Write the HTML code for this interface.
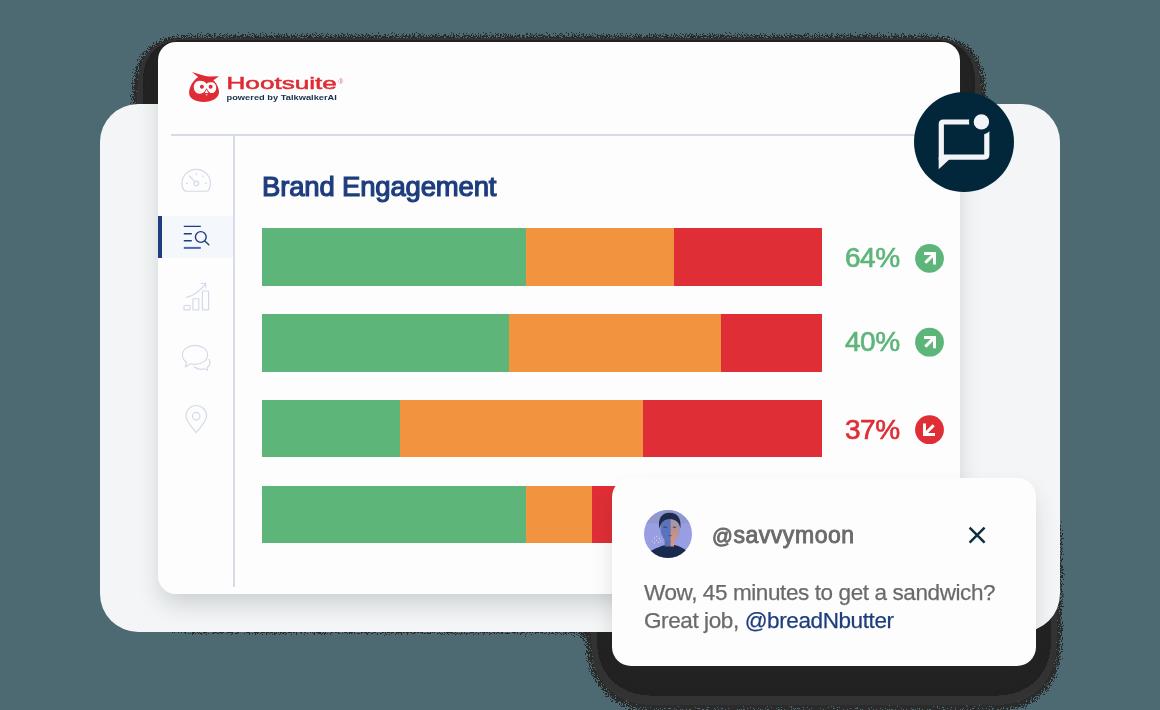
<!DOCTYPE html>
<html>
<head>
<meta charset="utf-8">
<title>Brand Engagement</title>
<style>
html,body{margin:0;padding:0;}
body{width:1160px;height:710px;overflow:hidden;background:#4d6972;position:relative;font-family:"Liberation Sans",sans-serif;}
.abs{position:absolute;}
#back{left:100px;top:104px;width:960px;height:528px;border-radius:38px;background:#f3f5f7;}
#main{left:158px;top:42px;width:802px;height:552px;border-radius:18px;background:#fdfdfe;box-shadow:0 12px 24px -4px rgba(42,54,44,.215);}
#hline{left:171px;top:134px;width:776px;height:2px;background:#d5dbea;}
#vline{left:233.3px;top:136px;width:1.7px;height:451px;background:#d6dcea;}
#active{left:158px;top:216px;width:75px;height:42px;background:#f4f7fc;}
#active:before{content:"";position:absolute;left:0;top:0;width:4px;height:42px;background:#1e3d7d;}
#title{will-change:transform;left:262px;top:169.5px;font-size:27.5px;color:#1e3d7d;white-space:nowrap;line-height:34px;letter-spacing:-0.17px;-webkit-text-stroke:1.2px #1e3d7d;}
.bar{position:absolute;left:262px;width:560px;height:57.5px;background:#df2e36;}
.bar i{position:absolute;left:0;top:0;height:100%;display:block;}
.bar .o{background:#f2943f;}
.bar .g{background:#5eb57a;}
.pct{position:absolute;left:845px;font-size:28px;line-height:30px;white-space:nowrap;-webkit-text-stroke:0.65px currentColor;letter-spacing:-0.5px;will-change:transform;}
.green{color:#5eb57a;}
.red{color:#df2e36;}
#pop{left:612px;top:478px;width:424px;height:188px;border-radius:19px;background:#fdfdfe;box-shadow:0 12px 24px -4px rgba(40,50,45,.19);}
#handle{will-change:transform;left:712px;top:520px;font-size:23px;color:#6b6b6b;line-height:30px;white-space:nowrap;letter-spacing:0.55px;-webkit-text-stroke:0.9px #6b6b6b;}
.msg{will-change:transform;position:absolute;left:644px;font-size:22.5px;color:#6a6a6a;line-height:28px;white-space:nowrap;letter-spacing:-0.4px;-webkit-text-stroke:0.25px currentColor;}
.msg b{font-weight:normal;color:#1e3d7d;}
</style>
</head>
<body>
<svg class="abs" id="hardshadow" style="left:0;top:0" width="1160" height="710" viewBox="0 0 1160 710">
<defs>
<filter id="hard" filterUnits="userSpaceOnUse" x="0" y="0" width="1160" height="710" color-interpolation-filters="sRGB">
 <feGaussianBlur in="SourceAlpha" stdDeviation="10" result="b"/>
 <feOffset in="b" dx="0" dy="13" result="o1"/>
 <feOffset in="b" dx="0" dy="16.5" result="o2"/>
 <feGaussianBlur in="SourceAlpha" stdDeviation="14" result="bw"/>
 <feOffset in="bw" dx="0" dy="19" result="o3"/>
 <feComponentTransfer in="o1" result="s1"><feFuncA type="linear" slope="2.2" intercept="0"/></feComponentTransfer>
 <feComponentTransfer in="s1" result="m1"><feFuncA type="discrete" tableValues="0 1"/></feComponentTransfer>
 <feColorMatrix in="m1" type="matrix" values="0 0 0 0 .133  0 0 0 0 .133  0 0 0 0 .133  0 0 0 1 0" result="c1"/>
 <feComponentTransfer in="o2" result="s2"><feFuncA type="linear" slope="5.17" intercept="0"/></feComponentTransfer>
 <feComponentTransfer in="s2" result="m2"><feFuncA type="discrete" tableValues="0 1"/></feComponentTransfer>
 <feColorMatrix in="m2" type="matrix" values="0 0 0 0 .2  0 0 0 0 .2  0 0 0 0 .2  0 0 0 1 0" result="c2"/>
 <feTurbulence type="fractalNoise" baseFrequency="0.83" numOctaves="2" seed="7" result="n"/>
 <feComposite in="o3" in2="n" operator="arithmetic" k1="11.6" k2="-0.64" k3="0" k4="0" result="d0"/>
 <feComponentTransfer in="d0" result="m3"><feFuncA type="discrete" tableValues="0 1"/></feComponentTransfer>
 <feColorMatrix in="m3" type="matrix" values="0 0 0 0 .17  0 0 0 0 .17  0 0 0 0 .17  0 0 0 1 0" result="c3"/>
 <feMerge><feMergeNode in="c3"/><feMergeNode in="c2"/><feMergeNode in="c1"/></feMerge>
</filter>
</defs>
<g filter="url(#hard)"><rect x="150" y="34" width="818" height="562" rx="26"/><rect x="604" y="471.5" width="440" height="204" rx="42"/></g>
</svg>
<div class="abs" id="back"></div>
<div class="abs" id="main"></div>
<div class="abs" id="hline"></div>
<div class="abs" id="vline"></div>
<div class="abs" id="active"></div>
<div class="abs" id="title">Brand Engagement</div>

<div class="bar" style="top:228px"><i class="o" style="width:412px"></i><i class="g" style="width:264px"></i></div>
<div class="bar" style="top:314px"><i class="o" style="width:459px"></i><i class="g" style="width:247px"></i></div>
<div class="bar" style="top:399.5px"><i class="o" style="width:381px"></i><i class="g" style="width:138px"></i></div>
<div class="bar" style="top:485.5px"><i class="o" style="width:330px"></i><i class="g" style="width:264px"></i></div>

<div class="pct green" style="top:243px;left:845px">64%</div>
<div class="pct green" style="top:327px">40%</div>
<div class="pct red" style="top:414.5px;left:845px">37%</div>


<svg class="abs" id="ov1" style="left:0;top:0" width="1160" height="710" viewBox="0 0 1160 710">
<!-- logo owl -->
<g id="owl">
<path fill="#df2b33" d="M191.9,71.9 L202.6,75.3 Q205.6,76 208.8,76.4 L219,76.3 L213.4,80.2 C216.6,83.2 219,88 219,92 C219,98 212.2,101.9 203.8,101.9 C195.4,101.9 189.1,98.4 189.1,93 C189.1,87 193,80.6 198.1,77 Z"/>
<path fill="#fdfdfe" d="M206.5,83.9 C205.6,82 202.8,80.8 199.7,80.8 C196.3,80.8 193.8,83.6 193.8,87.2 C193.8,90.8 196.4,93.7 199.7,93.7 C201.9,93.7 203.7,92.8 204.7,91.2 L206.5,88.2 L208.5,91.2 C209.3,92.5 210.5,93.1 211.9,93.1 C214.4,93.1 216.2,90.7 216.2,87.7 C216.2,84.7 214.3,82.3 211.8,82.3 C209.5,82.3 207.4,82.6 206.5,83.9 Z"/>
<circle cx="201.9" cy="86.8" r="2" fill="#df2b33"/>
<circle cx="210.6" cy="86.8" r="2" fill="#df2b33"/>
<ellipse cx="198.6" cy="91.1" rx="2.6" ry="0.9" fill="#e6eaee"/>
<path fill="#fdfdfe" d="M206.5,89.6 L208.3,93.1 L204.8,93.1 Z"/>
<path fill="#fdfdfe" d="M205.5,94.2 L207.7,94.2 L206.6,95.8 Z"/>
</g>
<g font-family="Liberation Sans, sans-serif">
<text x="226.5" y="88.6" font-size="17px" fill="#df2b33" stroke="#df2b33" stroke-width="0.5" textLength="110.4" lengthAdjust="spacingAndGlyphs">Hootsuite</text>
<text x="338.4" y="84" font-size="6.5px" fill="#e8686d" >®</text>
<text x="226.5" y="100" font-size="7.2px" font-weight="bold" fill="#14304b" textLength="110.4" lengthAdjust="spacingAndGlyphs">powered by TalkwalkerAI</text>
</g>
<!-- sidebar icons -->
<g fill="none" stroke="#d3d9e8" stroke-width="1.15" stroke-linecap="round" stroke-linejoin="round">
 <!-- gauge -->
 <path d="M186,191.2 C183.6,191.2 182,187.6 182,183.4 C182,175.6 188.4,169.3 196.2,169.3 C204,169.3 210.4,175.6 210.4,183.4 C210.4,187.6 208.8,191.2 206.4,191.2 Z"/>
 <circle cx="196.4" cy="183.4" r="2.3"/>
 <path d="M194.7,181.7 L189.4,176 M196.4,173.6 v0.9 M203.4,176.1 l-0.6,0.6 M186.5,183.4 h0.9 M205.3,183.4 h0.9"/>
 <!-- bars -->
 <rect x="184" y="305.5" width="5.9" height="4.4" rx="0.4"/>
 <rect x="192.9" y="298.7" width="5.9" height="11.2" rx="0.4"/>
 <rect x="202.4" y="291" width="6.2" height="18.9" rx="0.4"/>
 <path d="M186.6,297.4 C194,295.5 200.5,290.5 205.4,283.8 M201.2,283.5 L205.6,283.4 L205.8,287.8"/>
 <!-- chat -->
 <path d="M186.6,362.2 C183.9,360.4 182.4,357.8 182.4,354.9 C182.4,349.6 188,345.4 195,345.4 C202,345.4 207.6,349.6 207.6,354.9 C207.6,360.2 202,364.4 195,364.4 C193.4,364.4 191.9,364.2 190.5,363.8 L185.3,367 Z"/>
 <path d="M208.9,359.4 C209.6,360.4 210,361.5 210,362.7 C210,364.6 209,366.3 207.4,367.5 L207.7,370.2 L204.6,368.8 C203.5,369.1 202.3,369.3 201,369.3 C198.4,369.3 196,368.4 194.4,367"/>
 <!-- pin -->
 <path d="M196.2,432.6 C192,427 186,421.5 186,415.7 C186,410 190.6,405.5 196.2,405.5 C201.8,405.5 206.6,410 206.6,415.7 C206.6,421.5 200.4,427 196.2,432.6 Z"/>
 <circle cx="196.2" cy="416.1" r="3.8"/>
</g>
<!-- active search icon -->
<g fill="none" stroke="#1e3d7d" stroke-width="1.4">
 <path d="M183.8,226.4 H200.8 M183.8,233.7 H191.8 M183.8,240.7 H191.8"/>
 <circle cx="200.8" cy="237" r="5.4"/>
 <path d="M204.8,241 L208.8,244.8" stroke-linecap="round"/>
 <path d="M183.8,247.9 H200.8" stroke="#4a66b5" stroke-width="2"/>
</g>
<!-- arrows -->
<g id="a1"><circle cx="929.5" cy="258.4" r="14.4" fill="#5eb57a"/><path d="M924,253.6 H934.5 V264.5 M934.5,253.6 L925.3,262.8" fill="none" stroke="#fdfdfe" stroke-width="3"/></g>
<g id="a2"><circle cx="929.5" cy="342.2" r="14.4" fill="#5eb57a"/><path d="M924,337.4 H934.5 V348.3 M934.5,337.4 L925.3,346.6" fill="none" stroke="#fdfdfe" stroke-width="3"/></g>
<g id="a3"><circle cx="929.5" cy="429.7" r="14.4" fill="#df2e36"/><path d="M935,434.5 H924.5 V423.6 M924.5,434.5 L933.7,425.3" fill="none" stroke="#fdfdfe" stroke-width="3"/></g>
<!-- chat bubble badge -->
<circle cx="964" cy="142" r="50" fill="#03273a"/>
<path d="M943.3,122 H986.8 V154.6 Q986.8,157.2 984.2,157.2 H941.3 V124 Q941.3,122 943.3,122 Z" fill="none" stroke="#f3f4f7" stroke-width="5.2" stroke-linejoin="miter"/>
<path d="M938.7,157 V169.2 L949.5,159.3 Z" fill="#f3f4f7"/>
<circle cx="981.4" cy="121.9" r="12.4" fill="#03273a"/>
<circle cx="981.4" cy="121.9" r="7.7" fill="#f3f4f7"/>
</svg>
<div class="abs" id="pop"></div>
<svg class="abs" id="ov2" style="left:0;top:0" width="1160" height="710" viewBox="0 0 1160 710">
<defs><clipPath id="avc"><circle cx="668" cy="534" r="24"/></clipPath><linearGradient id="skin" x1="0" y1="0" x2="0" y2="1"><stop offset="0" stop-color="#9f9ab4"/><stop offset="0.55" stop-color="#b8918f"/><stop offset="1" stop-color="#de9579"/></linearGradient></defs>
<g clip-path="url(#avc)">
 <rect x="644" y="510" width="48" height="48" fill="#999de1"/>
 <rect x="644" y="510" width="48" height="13.5" fill="#9197cf"/>
 <path d="M648,558 L648,552.5 C654,549 661,546 665,545 L674.5,545 C679,546 685,549 689,552.5 L689,558 Z" fill="#1a2a4c"/>
 <rect x="664.6" y="536" width="6.2" height="10.5" fill="#5670b6"/>
 <rect x="670.6" y="536" width="3.4" height="10.5" fill="#dc9479"/>
 <ellipse cx="669.9" cy="529.2" rx="9.4" ry="12.4" fill="#5b73ba"/>
 <path d="M670.6,516.8 C676.5,517.4 679.3,522.5 679.3,529.2 C679.3,535.5 675.5,541.2 670.6,541.6 Z" fill="url(#skin)"/>
 <path d="M659.4,529 C657.6,518.5 661.5,512.7 669.6,512.7 C677.4,512.7 681.6,518 680.4,528.5 C679.4,522.3 675.6,518.9 669.6,518.9 C664,518.9 660.8,522.5 659.4,529 Z" fill="#1c2b4b"/>
 <path d="M663.5,527.2 h3.6 M672.8,527.2 h3.4" stroke="#2b3a63" stroke-width="0.9"/>
 <path d="M668.6,535.6 h3" stroke="#3a4a7a" stroke-width="0.8"/>
 <g fill="#efe3cf"><circle cx="654.2" cy="538.2" r=".6"/><circle cx="656.8" cy="536.3" r=".6"/><circle cx="656.5" cy="540.3" r=".6"/><circle cx="659.3" cy="538.6" r=".6"/><circle cx="652.4" cy="541" r=".6"/><circle cx="654.6" cy="542.8" r=".6"/><circle cx="658.3" cy="542.3" r=".6"/><circle cx="660.6" cy="541" r=".6"/></g>
</g>
<path d="M969.6,527.6 L984.6,542.6 M984.6,527.6 L969.6,542.6" stroke="#0f2e42" stroke-width="2.5" fill="none"/>
</svg>

<div class="abs" id="handle"><span style="font-size:20.5px;position:relative;top:-0.5px">@</span>savvymoon</div>
<div class="msg" style="top:578.5px">Wow, 45 minutes to get a sandwich?</div>
<div class="msg" style="top:607px">Great job, <b>@breadNbutter</b></div>
</body>
</html>
